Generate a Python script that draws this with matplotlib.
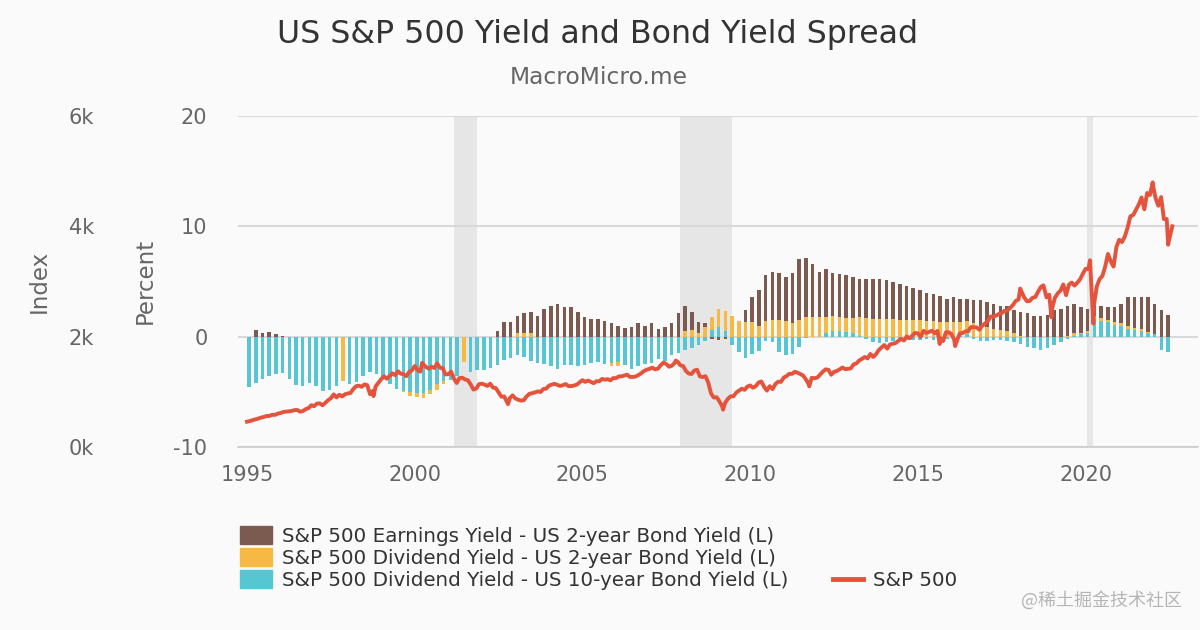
import numpy as np
import matplotlib.pyplot as plt
from matplotlib.patches import Patch
from matplotlib.lines import Line2D

plt.rcParams['font.family'] = ['DejaVu Sans']
plt.rcParams['axes.unicode_minus'] = False

# bar series, one value every 0.2 year starting 1995.0 (percent)
bar_start = 1995.0
bar_step = 0.2

earn_minus_2y = [
    -0.2, 0.6, 0.3, 0.4, 0.2,      # 1995
    0.1, -0.5, -1.0, -1.0, -0.8,   # 1996
    -1.2, -1.6, -1.8, -1.7, -1.6,  # 1997
    -1.5, -1.8, -1.6, -1.4, -1.5,  # 1998
    -2.0, -2.3, -2.7, -3.0, -3.2,  # 1999
    -3.4, -3.5, -3.0, -2.6, -2.0,  # 2000
    -1.5, -1.3, -1.3, -0.8, -0.3,  # 2001
    -0.2, -0.1, 0.5, 1.3, 1.3,     # 2002
    1.9, 2.1, 2.2, 1.9, 2.5,       # 2003
    2.8, 3.0, 2.7, 2.7, 2.2,       # 2004
    1.8, 1.6, 1.6, 1.4, 1.2,       # 2005
    1.0, 0.8, 0.9, 1.2, 1.0,       # 2006
    1.2, 0.7, 0.9, 1.2, 2.1,       # 2007
    2.8, 2.2, 1.3, 1.2, -0.2,      # 2008
    -0.3, -0.2, 0.3, 1.2, 2.4,     # 2009
    3.6, 4.2, 5.6, 5.9, 5.8,       # 2010
    5.4, 5.8, 7.0, 7.1, 6.6,       # 2011
    5.9, 6.1, 5.8, 5.7, 5.6,       # 2012
    5.4, 5.2, 5.2, 5.2, 5.2,       # 2013
    5.1, 5.0, 4.8, 4.6, 4.4,       # 2014
    4.2, 4.0, 3.9, 3.7, 3.4,       # 2015
    3.6, 3.4, 3.4, 3.3, 3.3,       # 2016
    3.1, 3.0, 2.8, 2.8, 2.4,       # 2017
    2.2, 2.1, 1.9, 1.9, 2.0,       # 2018
    2.4, 2.5, 2.8, 3.0, 2.7,       # 2019
    2.5, 3.4, 2.8, 2.7, 2.7,       # 2020
    3.0, 3.6, 3.6, 3.6, 3.6,       # 2021
    3.0, 2.4, 2.0,                 # 2022
]

div_minus_2y = [
    -4.0, -3.6, -3.3, -3.0, -2.9,
    -2.8, -3.3, -3.9, -4.0, -3.8,
    -4.2, -4.6, -4.5, -4.2, -4.0,
    -4.0, -3.9, -3.4, -3.0, -3.0,
    -3.4, -4.0, -4.6, -5.0, -5.4,
    -5.5, -5.6, -5.2, -4.8, -4.3,
    -3.5, -2.5, -2.3, -1.5, -1.0,
    -1.2, -1.4, -0.8, -0.3, 0.0,
    0.3, 0.3, 0.3, 0.0, -0.2,
    -0.3, -0.6, -1.0, -1.2, -1.5,
    -1.8, -2.0, -2.2, -2.4, -2.7,
    -2.7, -2.5, -2.8, -2.6, -2.4,
    -2.3, -1.9, -2.1, -1.5, -0.8,
    0.5, 0.6, 0.3, 0.9, 1.8,
    2.5, 2.3, 1.9, 1.4, 1.3,
    1.3, 1.0, 1.4, 1.5, 1.5,
    1.4, 1.2, 1.5, 1.8, 1.8,
    1.8, 1.8, 1.9, 1.8, 1.7,
    1.7, 1.8, 1.7, 1.6, 1.6,
    1.6, 1.6, 1.5, 1.5, 1.5,
    1.5, 1.4, 1.4, 1.3, 1.3,
    1.3, 1.3, 1.4, 1.2, 1.0,
    0.9, 0.7, 0.6, 0.5, 0.3,
    0.1, -0.2, -0.5, -0.8, -0.8,
    -0.5, -0.3, 0.1, 0.3, 0.3,
    0.5, 1.9, 1.7, 1.5, 1.3,
    1.2, 1.0, 0.8, 0.7, 0.4,
    0.2, -1.0, -1.2,
]

nan = float('nan')
div_minus_10y = [
    -4.6, -4.2, -3.8, -3.6, -3.4,
    -3.3, -3.8, -4.4, -4.5, -4.2,
    -4.5, -4.9, -4.8, -4.5, nan,
    -4.3, -4.1, -3.6, -3.2, -3.4,
    -3.8, -4.3, -4.7, -4.9, -5.0,
    -5.1, -5.1, -4.8, -4.3, -4.0,
    -3.9, -3.6, nan, -3.2, -3.0,
    -3.0, -2.8, -2.6, -2.1, -1.9,
    -1.7, -1.8, -2.2, -2.4, -2.5,
    -2.7, -2.9, -2.6, -2.6, -2.7,
    -2.6, -2.4, -2.3, -2.5, -2.4,
    -2.3, -2.6, -2.9, -2.7, -2.5,
    -2.4, -2.0, -2.2, -1.7, -1.5,
    -1.2, -1.0, -0.8, -0.4, 0.6,
    0.9, 0.5, -0.8, -1.4, -1.9,
    -1.6, -1.3, -0.4, -0.5, -1.4,
    -1.7, -1.6, -0.9, -0.1, 0.0,
    0.0, 0.3, 0.5, 0.5, 0.4,
    0.3, 0.1, -0.2, -0.5, -0.6,
    -0.5, -0.4, -0.4, -0.3, -0.3,
    -0.3, -0.2, -0.3, -0.3, -0.2,
    -0.1, 0.1, 0.2, -0.2, -0.4,
    -0.4, -0.3, -0.3, -0.4, -0.5,
    -0.7, -0.9, -1.0, -1.2, -1.0,
    -0.8, -0.5, -0.2, 0.1, 0.2,
    0.3, 1.6, 1.4, 1.3, 1.1,
    1.0, 0.7, 0.6, 0.5, 0.3,
    0.2, -1.2, -1.4,
]

# S&P 500 month-end level, Jan 1995 .. Jul 2022
sp500_monthly = [
    470, 487, 501, 515, 533, 545, 562, 562, 584, 582, 605, 616,
    636, 640, 646, 654, 669, 671, 640, 652, 687, 705, 757, 741,
    786, 791, 757, 801, 848, 885, 954, 899, 947, 915, 955, 970,
    980, 1049, 1102, 1112, 1091, 1134, 1121, 957, 1017, 1099, 1164, 1229,
    1280, 1238, 1286, 1335, 1302, 1373, 1329, 1320, 1283, 1363, 1389, 1469,
    1394, 1366, 1499, 1452, 1421, 1455, 1431, 1518, 1437, 1429, 1315, 1320,
    1366, 1240, 1160, 1249, 1256, 1224, 1211, 1134, 1041, 1060, 1139, 1148,
    1130, 1107, 1147, 1077, 1067, 990, 912, 916, 815, 886, 936, 880,
    856, 841, 848, 917, 964, 975, 990, 1008, 996, 1051, 1058, 1112,
    1131, 1145, 1126, 1107, 1121, 1141, 1102, 1104, 1115, 1130, 1174, 1212,
    1181, 1204, 1181, 1157, 1192, 1191, 1234, 1220, 1229, 1207, 1249, 1248,
    1280, 1281, 1295, 1311, 1270, 1270, 1277, 1304, 1336, 1378, 1401, 1418,
    1438, 1407, 1421, 1482, 1531, 1503, 1455, 1474, 1527, 1549, 1481, 1468,
    1379, 1331, 1323, 1386, 1400, 1280, 1267, 1283, 1165, 969, 896, 903,
    826, 735, 798, 873, 919, 919, 987, 1021, 1057, 1036, 1096, 1115,
    1074, 1104, 1169, 1187, 1089, 1031, 1102, 1049, 1141, 1183, 1181, 1258,
    1286, 1327, 1326, 1364, 1345, 1321, 1292, 1219, 1131, 1253, 1247, 1258,
    1312, 1366, 1408, 1398, 1310, 1362, 1379, 1407, 1441, 1412, 1416, 1426,
    1498, 1515, 1569, 1598, 1631, 1606, 1686, 1633, 1682, 1757, 1806, 1848,
    1783, 1859, 1872, 1884, 1924, 1960, 1931, 2003, 1972, 2018, 2068, 2059,
    1995, 2105, 2068, 2086, 2107, 2063, 2104, 1972, 1920, 2079, 2080, 2044,
    1940, 1932, 2060, 2065, 2097, 2099, 2174, 2171, 2168, 2126, 2199, 2239,
    2279, 2364, 2363, 2384, 2412, 2423, 2470, 2472, 2519, 2575, 2648, 2674,
    2824, 2714, 2641, 2648, 2705, 2718, 2816, 2902, 2914, 2712, 2760, 2507,
    2704, 2784, 2834, 2946, 2752, 2942, 2980, 2926, 2977, 3038, 3141, 3231,
    3226, 2954, 2585, 2912, 3044, 3100, 3271, 3500, 3363, 3270, 3622, 3756,
    3714, 3811, 3973, 4181, 4204, 4298, 4395, 4523, 4308, 4605, 4567, 4766,
    4516, 4374, 4530, 4132, 4132, 3785, 4000,
]
# intra-month highs and lows that show on the line
sp500_extra_t = [1995.0, 1998.77, 2000.22, 2002.78, 2007.78, 2009.19, 2010.5,
                 2011.76, 2015.65, 2016.11, 2018.05, 2018.74, 2018.98, 2020.13,
                 2020.23, 2022.0, 2022.46]
sp500_extra_v = [459, 923, 1527, 777, 1565, 676, 1022,
                 1099, 1867, 1829, 2873, 2930, 2351, 3386,
                 2237, 4797, 3667]

recessions = [(2001.17, 2001.87), (2007.92, 2009.46), (2020.05, 2020.22)]

legend_labels = ['S&P 500 Earnings Yield - US 2-year Bond Yield (L)',
                 'S&P 500 Dividend Yield - US 2-year Bond Yield (L)',
                 'S&P 500 Dividend Yield - US 10-year Bond Yield (L)',
                 'S&P 500']

brown, yellow, teal, red = '#7b5a4f', '#f6b943', '#57c6d3', '#e5533c'
bg = '#fafafa'

fig = plt.figure(figsize=(12, 6.3), dpi=100, facecolor=bg)
ax = fig.add_axes([238 / 1200, 1 - 447 / 630, 960 / 1200, 331 / 630])
ax.set_facecolor(bg)

for a, b in recessions:
    ax.axvspan(a, b, color='#e6e6e6', lw=0, zorder=0)

x = bar_start + bar_step * np.arange(len(earn_minus_2y)) + 0.06
ax.bar(x, earn_minus_2y, width=0.105, color=brown, zorder=2)
ax.bar(x, div_minus_2y, width=0.105, color=yellow, zorder=3)
ax.bar(x, div_minus_10y, width=0.105, color=teal, zorder=4)

ax.set_xlim(1994.73, 2023.35)
ax.set_ylim(-10, 20)
ax.set_yticks([-10, 0, 10, 20])
ax.set_xticks([1995, 2000, 2005, 2010, 2015, 2020])
ax.grid(axis='y', color='#d9d9d9', lw=1.5, zorder=1)
ax.set_axisbelow(True)
for s in ['top', 'right', 'left']:
    ax.spines[s].set_visible(False)
ax.spines['bottom'].set_color('#cccccc')
ax.spines['bottom'].set_linewidth(1.2)
ax.tick_params(axis='y', length=0, pad=22, labelsize=15, labelcolor='#666666')
ax.tick_params(axis='x', length=0, pad=13, labelsize=15, labelcolor='#666666')

# index axis, drawn on the left beside the percent axis
ax2 = ax.twinx()
t_month = 1995 + (np.arange(len(sp500_monthly)) + 1) / 12
t = np.concatenate([t_month, sp500_extra_t])
v = np.concatenate([sp500_monthly, sp500_extra_v])
order = np.argsort(t)
ax2.plot(t[order], v[order], color=red, lw=2.8, zorder=5)
ax2.set_ylim(0, 6000)
ax2.yaxis.tick_left()
ax2.spines['left'].set_position(('axes', -0.118))
for s in ax2.spines.values():
    s.set_visible(False)
ax2.set_yticks([0, 2000, 4000, 6000])
ax2.set_yticklabels(['0k', '2k', '4k', '6k'])
ax2.tick_params(axis='y', length=0, pad=22, labelsize=15, labelcolor='#666666')

fig.text(39 / 1200, 1 - 281 / 630, 'Index', rotation=90, ha='center', va='center',
         fontsize=16.5, color='#666666')
fig.text(145 / 1200, 1 - 281 / 630, 'Percent', rotation=90, ha='center', va='center',
         fontsize=16.5, color='#666666')

fig.text(0.498, 1 - 34 / 630, 'US S&P 500 Yield and Bond Yield Spread', ha='center',
         va='center', fontsize=22.8, color='#333333')
fig.text(0.499, 1 - 78 / 630, 'MacroMicro.me', ha='center', va='center',
         fontsize=16.8, color='#666666')

handles = [Patch(color=brown), Patch(color=yellow), Patch(color=teal)]
fig.legend(handles, legend_labels[:3], loc='upper left',
           bbox_to_anchor=(240 / 1200, 1 - 526 / 630), frameon=False,
           fontsize=14.3, handlelength=1.6, handleheight=1.05,
           handletextpad=0.5, labelspacing=0.1, borderpad=0,
           borderaxespad=0, labelcolor='#333333')
fig.legend([Line2D([], [], color=red, lw=3.5)], legend_labels[3:], loc='center left',
           bbox_to_anchor=(833 / 1200, 1 - 580 / 630), frameon=False,
           fontsize=14.3, handlelength=1.5, handletextpad=0.5, borderpad=0,
           borderaxespad=0, labelcolor='#333333')

fig.text(1182 / 1200, 1 - 600 / 630, '@稀土掘金技术社区', ha='right', va='center',
         fontsize=13, color='#b5b5b5', family=['Noto Sans CJK SC', 'DejaVu Sans'])

fig.savefig('out.png', dpi=100, facecolor=bg)
